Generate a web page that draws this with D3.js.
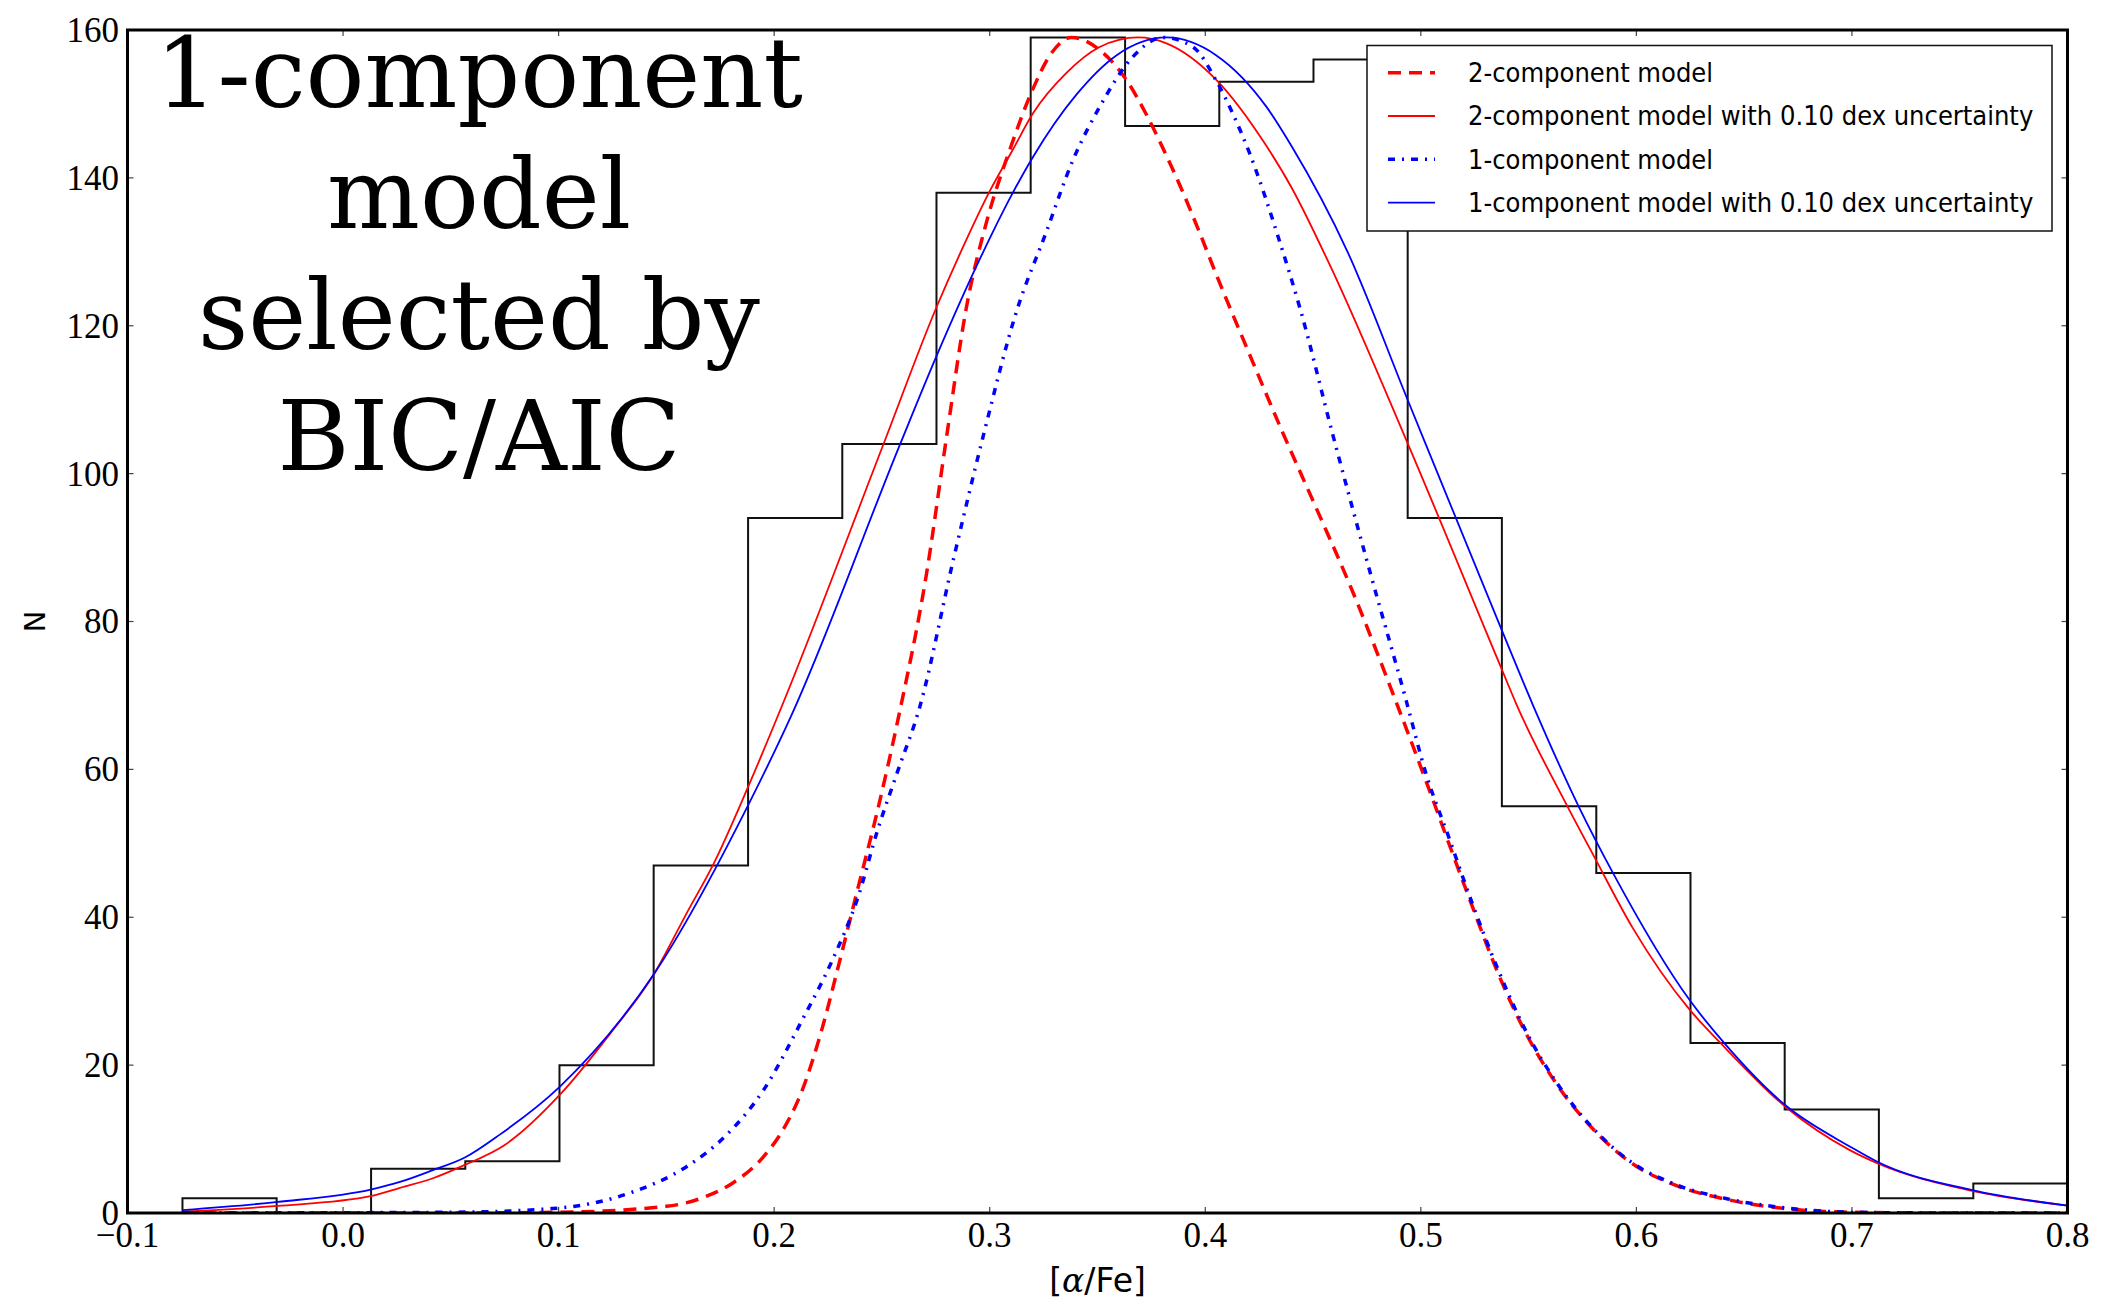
<!DOCTYPE html>
<html>
<head>
<meta charset="utf-8">
<script src="https://cdn.jsdelivr.net/npm/d3@7"></script>
<style>
  body { margin: 0; background: #fff; }
  svg { display: block; }
</style>
</head>
<body>
<script>
// histogram of [alpha/Fe] (step outline)
var binEdges = [-0.0745, -0.0308, 0.0130, 0.0567, 0.1004, 0.1441, 0.1879, 0.2316, 0.2753, 0.3190, 0.3628,
                0.4065, 0.4502, 0.4939, 0.5376, 0.5814, 0.6251, 0.6688, 0.7125, 0.7563, 0.8000];
var binCounts = [2, 0, 6, 7, 20, 47, 94, 104, 138, 159, 147, 153, 156, 94, 55, 46, 23, 14, 2, 4];

// model curves as [x, N]
var twoComp = [[-0.0745, 0], [0.05, 0], [0.10, 0.1], [0.15, 0.9], [0.168, 2.2], [0.181, 4.1], [0.195, 7.6],
  [0.204, 11.2], [0.213, 16.6], [0.222, 24.7], [0.2305, 34.2], [0.239, 44.1], [0.248, 54.5], [0.258, 67.5],
  [0.2707, 86.5], [0.280, 105], [0.2892, 122.5], [0.2985, 134], [0.3093, 143.8], [0.320, 152], [0.328, 156.6],
  [0.338, 159], [0.351, 157.3], [0.3635, 153.2], [0.3728, 148.5], [0.382, 143], [0.3897, 138], [0.3975, 132.5],
  [0.405, 127], [0.420, 116.5], [0.436, 105.5], [0.452, 95], [0.467, 85], [0.4887, 69], [0.5023, 58.5],
  [0.513, 50], [0.5237, 41.6], [0.536, 32.3], [0.5484, 24.5], [0.5626, 17.6], [0.5804, 11.2], [0.598, 6.7],
  [0.616, 4.0], [0.6424, 1.8], [0.669, 0.6], [0.70, 0.1], [0.75, 0], [0.8, 0]];

var twoCompUnc = [[-0.0745, 0.2], [-0.0303, 0.95], [0.0133, 2.3], [0.0264, 3.4], [0.0417, 4.7], [0.0565, 6.5],
  [0.075, 9.2], [0.1006, 16.0], [0.124, 24.3], [0.1444, 32.4], [0.1595, 40.6], [0.172, 47.3], [0.188, 57.7],
  [0.2035, 68.5], [0.2506, 103.9], [0.2753, 122.5], [0.2877, 130.7], [0.300, 138.2], [0.3107, 143.8],
  [0.320, 148.7], [0.3356, 154.2], [0.351, 157.7], [0.3688, 159], [0.382, 158.2], [0.405, 153.3], [0.4284, 144.3],
  [0.440, 138.7], [0.457, 128.7], [0.4933, 104.5], [0.5366, 74.2], [0.5445, 68.7], [0.568, 55], [0.5804, 48.2],
  [0.598, 38.7], [0.6247, 27.5], [0.639, 23], [0.669, 14.4], [0.699, 8.5], [0.712, 6.7], [0.7558, 3.0], [0.8, 1.0]];

var oneComp = [[-0.0745, 0], [0.05, 0.1], [0.097, 0.6], [0.133, 2.7], [0.1595, 6.3], [0.177, 10.3], [0.195, 16.6],
  [0.213, 26.1], [0.227, 34.2], [0.239, 42.8], [0.248, 51.8], [0.257, 59.5], [0.2676, 68.5], [0.283, 88.2],
  [0.297, 105.1], [0.3125, 122], [0.326, 132.5], [0.3386, 142.4], [0.351, 149.6], [0.3665, 156.4], [0.3804, 159],
  [0.3943, 157.7], [0.405, 153.2], [0.4129, 148.6], [0.4206, 143.3], [0.4346, 131.3], [0.444, 122.3],
  [0.4593, 105.1], [0.4748, 88.4], [0.4933, 69.2], [0.5023, 59.5], [0.513, 50.8], [0.5237, 42], [0.536, 32.8],
  [0.5484, 24.8], [0.5626, 17.8], [0.5804, 11.3], [0.598, 6.8], [0.616, 4.1], [0.6424, 1.9], [0.669, 0.7],
  [0.70, 0.1], [0.75, 0], [0.8, 0]];

var oneCompUnc = [[-0.0745, 0.4], [-0.0303, 1.5], [0.0133, 3.2], [0.0264, 4.2], [0.0417, 5.8], [0.0565, 7.5],
  [0.0727, 10.6], [0.1006, 17.1], [0.1444, 32.4], [0.188, 55.2], [0.208, 67.3], [0.2583, 103.9], [0.2753, 115.9],
  [0.297, 130], [0.310, 137.6], [0.320, 142.8], [0.3403, 151.3], [0.3589, 156.6], [0.382, 159], [0.405, 156.6],
  [0.4284, 149.6], [0.440, 144.3], [0.466, 130], [0.4933, 110.4], [0.5366, 79.5], [0.552, 68.7], [0.5732, 55],
  [0.5893, 45.9], [0.6247, 28.8], [0.6407, 23], [0.669, 14.6], [0.699, 9.0], [0.712, 6.9], [0.7558, 3.1],
  [0.8, 1.0]];

var xTicks = [-0.1, 0.0, 0.1, 0.2, 0.3, 0.4, 0.5, 0.6, 0.7, 0.8];
var yTicks = [0, 20, 40, 60, 80, 100, 120, 140, 160];
var legendLabels = ['2-component model', '2-component model with 0.10 dex uncertainty',
                    '1-component model', '1-component model with 0.10 dex uncertainty'];
var bigText = ['1-component', 'model', 'selected by', 'BIC/AIC'];

var width = 2105, height = 1301;
var plotLeft = 127.5, plotRight = 2067.5, plotTop = 30, plotBottom = 1213;

var svg = d3.select('body').append('svg')
  .attr('width', width)
  .attr('height', height);

var x = d3.scaleLinear().domain([-0.1, 0.8]).range([plotLeft, plotRight]);
var y = d3.scaleLinear().domain([0, 160]).range([plotBottom, plotTop]);

svg.append('clipPath')
  .attr('id', 'plot-clip')
  .append('rect')
  .attr('x', plotLeft)
  .attr('y', plotTop)
  .attr('width', plotRight - plotLeft)
  .attr('height', plotBottom - plotTop);

var plot = svg.append('g').attr('clip-path', 'url(#plot-clip)');

// histogram as a step outline
var stepPts = [[binEdges[0], 0]];
binCounts.forEach(function(c, i) {
  stepPts.push([binEdges[i], c]);
  stepPts.push([binEdges[i + 1], c]);
});
stepPts.push([binEdges[binEdges.length - 1], 0]);

plot.append('path')
  .attr('d', d3.line().x(function(d) { return x(d[0]); }).y(function(d) { return y(d[1]); })(stepPts))
  .attr('fill', 'none')
  .attr('stroke', '#111')
  .attr('stroke-width', 2);

var curve = d3.line()
  .x(function(d) { return x(d[0]); })
  .y(function(d) { return y(d[1]); })
  .curve(d3.curveMonotoneX);

var series = [
  { data: twoComp, color: '#ff0000', width: 3.5, dash: '13,8' },
  { data: twoCompUnc, color: '#ff0000', width: 1.8, dash: null },
  { data: oneComp, color: '#0000ff', width: 3.5, dash: '7,7,2,7' },
  { data: oneCompUnc, color: '#0000ff', width: 1.8, dash: null }
];

series.forEach(function(s) {
  plot.append('path')
    .attr('d', curve(s.data))
    .attr('fill', 'none')
    .attr('stroke', s.color)
    .attr('stroke-width', s.width)
    .attr('stroke-dasharray', s.dash);
});

// ticks, inward on all four sides
var tickG = svg.append('g').attr('stroke', '#444').attr('stroke-width', 1.2);
xTicks.forEach(function(t) {
  tickG.append('line').attr('x1', x(t)).attr('x2', x(t)).attr('y1', plotBottom).attr('y2', plotBottom - 6);
  tickG.append('line').attr('x1', x(t)).attr('x2', x(t)).attr('y1', plotTop).attr('y2', plotTop + 6);
});
yTicks.forEach(function(t) {
  tickG.append('line').attr('x1', plotLeft).attr('x2', plotLeft + 6).attr('y1', y(t)).attr('y2', y(t));
  tickG.append('line').attr('x1', plotRight).attr('x2', plotRight - 6).attr('y1', y(t)).attr('y2', y(t));
});

var fmt = d3.format('.1f');
svg.append('g').selectAll('text')
  .data(xTicks)
  .enter().append('text')
  .attr('x', function(d) { return x(d); })
  .attr('y', 1247)
  .attr('text-anchor', 'middle')
  .style('font-family', '"Liberation Serif", "Times New Roman", serif')
  .style('font-size', '35px')
  .text(function(d) { return fmt(d).replace('-', '\u2212'); });

svg.append('g').selectAll('text')
  .data(yTicks)
  .enter().append('text')
  .attr('x', 119)
  .attr('y', function(d) { return y(d); })
  .attr('dy', '0.34em')
  .attr('text-anchor', 'end')
  .style('font-family', '"Liberation Serif", "Times New Roman", serif')
  .style('font-size', '35px')
  .text(function(d) { return d; });

// axis labels
var xLabel = svg.append('text')
  .attr('x', (plotLeft + plotRight) / 2)
  .attr('y', 1292)
  .attr('text-anchor', 'middle')
  .style('font-family', '"DejaVu Sans", sans-serif')
  .style('font-size', '33px');
xLabel.append('tspan').text('[');
xLabel.append('tspan').style('font-family', '"DejaVu Serif", serif').style('font-style', 'italic').text('\u03b1');
xLabel.append('tspan').text('/Fe]');

svg.append('text')
  .attr('transform', 'translate(45,' + ((plotTop + plotBottom) / 2) + ') rotate(-90)')
  .attr('text-anchor', 'middle')
  .style('font-family', '"DejaVu Sans", sans-serif')
  .style('font-size', '29px')
  .text('N');

// big annotation
svg.append('g').selectAll('text')
  .data(bigText)
  .enter().append('text')
  .attr('x', 479)
  .attr('y', function(d, i) { return 107 + i * 121; })
  .attr('text-anchor', 'middle')
  .style('font-family', '"DejaVu Serif", serif')
  .style('font-size', '98px')
  .text(function(d) { return d; });

// legend
var legend = svg.append('g');
legend.append('rect')
  .attr('x', 1367)
  .attr('y', 45.5)
  .attr('width', 685)
  .attr('height', 185.5)
  .attr('fill', '#fff')
  .attr('stroke', '#111')
  .attr('stroke-width', 1.5);

series.forEach(function(s, i) {
  var ry = 72.7 + i * 43.3;
  legend.append('line')
    .attr('x1', 1388).attr('x2', 1435)
    .attr('y1', ry).attr('y2', ry)
    .attr('stroke', s.color)
    .attr('stroke-width', s.width)
    .attr('stroke-dasharray', s.dash);
  legend.append('text')
    .attr('x', 1468)
    .attr('y', ry)
    .attr('dy', '0.35em')
    .style('font-family', '"DejaVu Sans", sans-serif')
    .style('font-size', '27px')
    .style('font-stretch', 'condensed')
    .text(legendLabels[i]);
});

// frame
svg.append('rect')
  .attr('x', plotLeft)
  .attr('y', plotTop)
  .attr('width', plotRight - plotLeft)
  .attr('height', plotBottom - plotTop)
  .attr('fill', 'none')
  .attr('stroke', '#000')
  .attr('stroke-width', 3);
</script>
</body>
</html>
